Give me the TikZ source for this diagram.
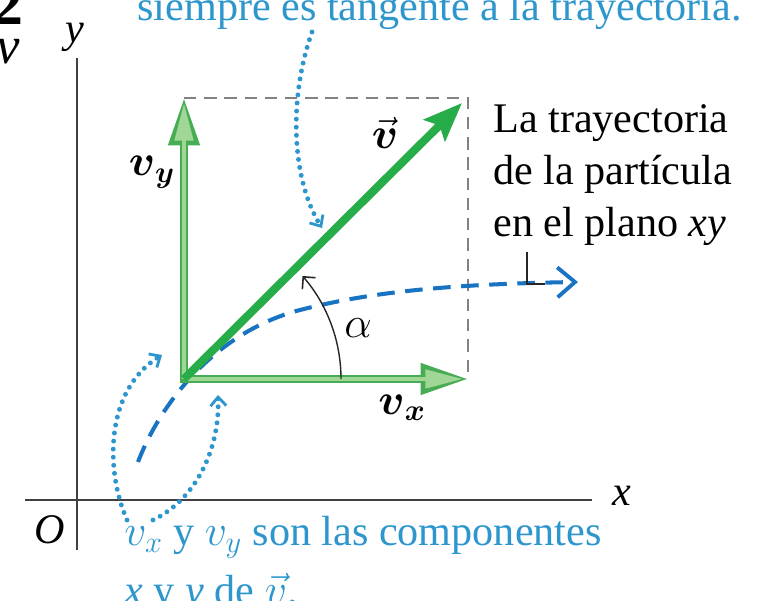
\documentclass[tikz,border=0pt]{standalone}
\usepackage{fontspec}
\setmainfont{Liberation Serif}
\usepackage{amsmath}
\usetikzlibrary{arrows.meta}

\definecolor{vgreen}{RGB}{38,172,72}
\definecolor{dgreen}{RGB}{72,172,84}
\definecolor{lgreen}{RGB}{160,214,150}
\definecolor{pathblue}{RGB}{25,115,195}
\definecolor{noteblue}{RGB}{45,150,205}
\definecolor{boxgray}{RGB}{130,130,130}

\begin{document}
\begin{tikzpicture}[
  x=0.02cm, y=0.02cm,
  every node/.style={inner sep=0pt, font=\fontsize{24}{29.6}\selectfont},
  axis line/.style={draw=black!75, line width=1.4pt},
  comp outer/.style={dgreen, line width=4.6pt, shorten <=-2.3pt,
    -{Triangle[length=27pt, width=17pt]}},
  comp inner/.style={lgreen, line width=1.8pt, shorten >=3.2pt,
    -{Triangle[length=21pt, width=10.5pt]}},
  velocity/.style={vgreen, line width=4.6pt,
    -{Stealth[length=22pt, width=17pt, inset=4pt]}},
  box line/.style={boxgray, line width=0.9pt, dash pattern=on 7pt off 4.5pt},
  traj line/.style={pathblue, line width=2.3pt, dash pattern=on 10pt off 6pt,
    -{Straight Barb[length=10pt, width=17pt, line width=2.2pt]}},
  note arrow/.style={noteblue, line width=2.8pt, line cap=round,
    dash pattern=on 0pt off 4.6pt,
    -{Straight Barb[length=5pt, width=9pt, line width=1.6pt]}},
]
  \useasboundingbox (0,0) rectangle (758,600);
  \clip (0,0) rectangle (758,600);

  % Main points: origin of the vectors, tips, corner of the box
  \path
    (184,221) coordinate (P)
    (468,221) coordinate (vxtip)
    (184,502) coordinate (vytip)
    (468,502) coordinate (C)
    (462,497) coordinate (vtip)
  ;

  % Axes
  \draw[axis line] (77,50) coordinate (ybot) -- (77,542) coordinate (ytop);
  \draw[axis line] (25,100) coordinate (xleft) -- (592,100) coordinate (xright);
  \node (ylab) at (75,563) {\textit{y}};
  \node[anchor=west] (xlab) at (612,104) {\textit{x}};
  \node (olab) at (50,70) {\textit{O}};

  % Dashed box of the components
  \draw[box line] (vytip) -- (C) -- (vxtip);

  % Path of the particle
  \draw[traj line] (138,138) .. controls (160,196) and (215,268) .. (300,290)
    .. controls (370,308) and (450,316) .. (578,318) coordinate (trajend);

  % Components v_x and v_y, outline first
  \foreach \tip in {vxtip, vytip} {
    \draw[comp outer] (P) -- (\tip);
    \draw[comp inner] (P) -- (\tip);
  }

  % Velocity
  \draw[velocity] (P) -- (vtip);

  % Angle alpha
  \draw[black!85, line width=0.8pt,
    -{Straight Barb[length=5pt, width=10pt, line width=0.9pt]}]
    (341,221) arc[start angle=0, end angle=41, radius=157];
  \node (alab) at (358,272) {$\alpha$};

  % Vector labels
  \node (vlab) at (385,467) {$\vec{\boldsymbol{v}}$};
  \node (vylab) at (152,428) {$\boldsymbol{v}_{\boldsymbol{y}}$};
  \node (vxlab) at (402,192) {$\boldsymbol{v}_{\boldsymbol{x}}$};

  % Texts
  \node[anchor=base west, text=noteblue] (tangnote) at (137,580)
    {siempre es tangente a la trayectoria.};
  \node[anchor=north west, align=left] (trajnote) at (493,496)
    {La trayectoria\\de la partícula\\en el plano \textit{xy}};
  \node[anchor=north west, align=left, text=noteblue] (compnote) at (124,84)
    {$v_x$ y $v_y$ son las componentes\\[4pt]\textit{x} y \textit{y} de $\vec{v}$.};
  \node[anchor=base east, font=\fontsize{34}{40}\selectfont\bfseries]
    (fignum) at (24,576) {2};
  \node[anchor=base east, font=\fontsize{30}{36}\selectfont\itshape]
    (figv) at (20,537) {v};

  % Leader to the path
  \draw[black!85, line width=0.8pt] (527,348) coordinate (leadtop) |- (545,316);

  % Dotted notes
  \draw[note arrow] (312,568) .. controls (288,500) and (292,420) .. (322,372);
  \draw[note arrow] (127,80) .. controls (105,130) and (105,210) .. (162,245);
  \draw[note arrow] (153,80) .. controls (195,100) and (220,150) .. (218,205);

\end{tikzpicture}
\end{document}
